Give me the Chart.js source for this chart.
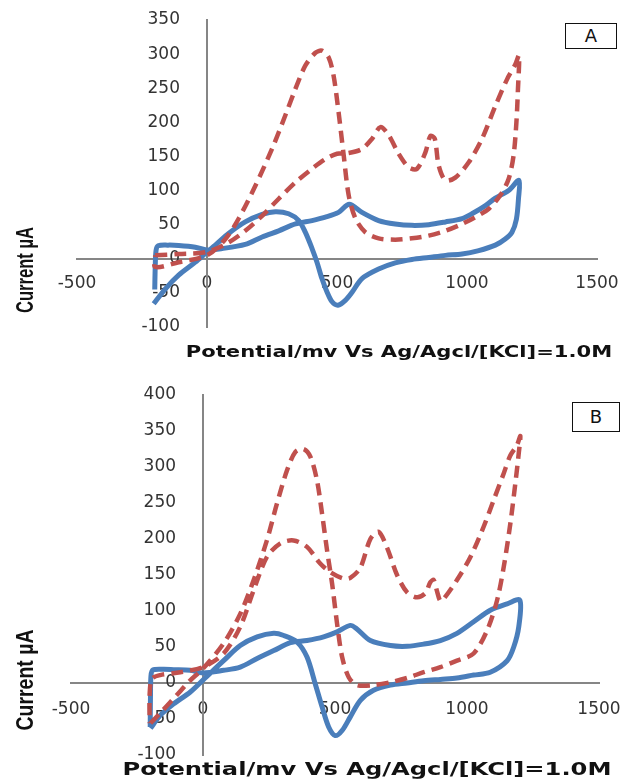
<!DOCTYPE html>
<html>
<head>
<meta charset="utf-8">
<title>Cyclic voltammograms A and B</title>
<script src="https://cdn.jsdelivr.net/npm/chart.js@4.4.1/dist/chart.umd.min.js"></script>
<style>
  html, body { margin: 0; padding: 0; background: #fff; }
  #page { position: relative; width: 629px; height: 780px; overflow: hidden; background: #fff; }
  canvas { position: absolute; left: 0; }
  #cvA { top: 0; }
  #cvB { top: 380px; }
  .tag {
    position: absolute; box-sizing: border-box; border: 1.5px solid #111;
    font: 18px "DejaVu Sans", sans-serif; color: #111; text-align: center;
    background: #fff;
  }
  .xtitle, .ytitle {
    position: absolute; white-space: nowrap; color: #111; font-weight: bold;
  }
  .xtitle { font-family: "DejaVu Sans", sans-serif; }
  .ytitle { font-family: "Liberation Sans", Arial, sans-serif; font-size: 24px; }
</style>
</head>
<body>
<div id="page">
  <canvas id="cvA" width="629" height="380"></canvas>
  <canvas id="cvB" width="629" height="400"></canvas>

  <div class="tag" style="left:565px;top:23px;width:52px;height:26px;line-height:23px;">A</div>
  <div class="tag" style="left:572px;top:402px;width:48px;height:30px;line-height:27px;">B</div>

  <div class="xtitle" style="left:399px;top:352px;font-size:15.5px;transform:translate(-50%,-50%) scaleX(1.36);">Potential/mv Vs Ag/Agcl/[KCl]=1.0M</div>
  <div class="xtitle" style="left:367px;top:768px;font-size:17.8px;transform:translate(-50%,-50%) scaleX(1.36);">Potential/mv Vs Ag/Agcl/[KCl]=1.0M</div>

  <div class="ytitle" style="left:25px;top:270px;transform:translate(-50%,-50%) rotate(-90deg) scaleX(0.69);">Current µA</div>
  <div class="ytitle" style="left:25px;top:680px;transform:translate(-50%,-50%) rotate(-90deg) scaleX(0.81);">Current µA</div>
</div>

<script>
// ---- axis ticks ----
const potentialTicks = [-500, 0, 500, 1000, 1500];
const currentTicksA = [-100, -50, 0, 50, 100, 150, 200, 250, 300, 350];
const currentTicksB = [-100, -50, 0, 50, 100, 150, 200, 250, 300, 350, 400];

// ---- panel A: blue solid loop (potential mV, current µA) ----
const aBluePotential = [-201, -199, -196, -188, -150, -109, -45, 0, 58, 147, 212, 276, 340, 404, 455, 506, 547, 596, 660, 724, 788, 853, 917, 981, 1019, 1071, 1109, 1160, 1200,
  1198, 1190, 1173, 1147, 1109, 1045, 981, 917, 853, 788, 724, 660, 596, 558, 532, 504, 481, 462, 442, 423, 404, 378, 353, 314, 263, 212, 147, 83, 32, 0, -45, -109, -160, -205];
const aBlueCurrent = [-45, -10, 12, 19, 20, 19.5, 17, 13, 15, 21, 32, 41, 51, 56, 61, 68, 80, 68, 56, 51, 49, 50, 54, 59, 66, 78, 89, 100, 115,
  88, 58, 39, 29, 20, 12, 7, 5, 2, -1, -6, -15, -29, -49, -61, -68, -63, -49, -29, -5, 15, 39, 56, 66, 69, 65, 54, 37, 20, 10, -5, -24, -44, -66];

// ---- panel A: red dashed loop ----
const aRedPotential = [-199, -109, 0, 83, 147, 212, 276, 340, 404, 455, 500, 545, 596, 635, 667, 699, 737, 776, 808, 840, 859, 876, 891, 917, 955, 1006, 1058, 1109, 1154, 1186, 1200,
  1196, 1190, 1179, 1160, 1128, 1083, 1032, 981, 917, 853, 788, 724, 660, 609, 571, 545, 526, 506, 487, 468, 442, 417, 378, 340, 301, 250, 186, 122, 71, 0, -109, -199, -199];
const aRedCurrent = [5, 7, 10, 24, 41, 63, 88, 112, 132, 146, 154, 155, 161, 176, 193, 181, 154, 134, 132, 156, 180, 176, 137, 115, 119, 141, 176, 224, 263, 285, 298,
  249, 200, 151, 117, 93, 73, 61, 51, 41, 34, 30, 28, 30, 39, 59, 93, 151, 215, 268, 295, 305, 302, 283, 249, 210, 161, 107, 59, 29, 5, -5, -12, 5];

// ---- panel B: blue solid loop ----
const bBluePotential = [-200, -199, -197, -190, -150, -111, -48, 0, 78, 141, 205, 268, 331, 394, 457, 508, 558, 583, 634, 710, 773, 836, 899, 962, 1025, 1088, 1152, 1200,
  1196, 1177, 1152, 1088, 1025, 962, 899, 836, 773, 710, 646, 596, 558, 527, 501, 476, 451, 425, 394, 356, 306, 268, 205, 141, 78, 0, -48, -111, -162, -199];
const bBlueCurrent = [-61, -20, 10, 18, 19, 18.5, 17.6, 14, 17.6, 22, 34, 45, 56, 59, 64, 71, 80, 75, 59, 52, 51, 54, 59, 69, 85, 101, 110, 115,
  78, 50, 31, 15, 11, 7, 5, 3, 0, -3, -10, -24, -47, -66, -73, -61, -33, -1, 36, 57, 66, 69, 64, 52, 31, 4, -12.5, -29, -45, -63];

// ---- panel B: red dashed loop ----
const bRedPotential = [-199, -150, -100, -50, 0, 78, 141, 192, 242, 280, 318, 350, 381, 407, 432, 451, 470, 489, 508, 527, 552, 583, 646, 710, 773, 836, 899, 962, 1025, 1076, 1114, 1139, 1164, 1183, 1196, 1202,
  1189, 1164, 1139, 1101, 1063, 1013, 962, 912, 899, 886, 874, 861, 843, 811, 773, 735, 697, 665, 634, 596, 558, 533, 482, 444, 394, 343, 293, 242, 192, 141, 78, 0, -86, -162, -193, -202, -202];
const bRedCurrent = [-56, -37, -17, 3, 20, 55, 96, 143, 198, 249, 295, 321, 325, 314, 281, 235, 184, 138, 82, 36, 8, -3, -3, 1, 7, 15, 22, 31, 41, 73, 115, 161, 221, 277, 319, 343,
  330, 316, 291, 254, 217, 175, 143, 117, 114, 128, 143, 140, 125, 119, 126, 150, 188, 210, 200, 160, 146, 145, 154, 166, 189, 198, 194, 175, 129, 78, 41, 22, 15, 11, 6, -15, -56];

const pairs = (xs, ys) => xs.map((x, i) => ({ x: x, y: ys[i] }));
const blue = '#4A7EBB';
const red = '#C0504D';
const axisGray = '#868686';
const tickFont = { family: 'DejaVu Sans', size: 17 };

// positioned axes should not push the plot area around
function noAxisPadding(scale) {
  scale.paddingLeft = 0; scale.paddingRight = 0;
  scale.paddingTop = 0; scale.paddingBottom = 0;
}

function makeChart(id, bluePts, redPts, yTicks, pad, yLabelAt, xLabelGap) {
  const yMin = yTicks[0], yMax = yTicks[yTicks.length - 1];
  return new Chart(document.getElementById(id), {
    type: 'scatter',
    data: {
      datasets: [
        { data: redPts, showLine: true, borderColor: red, borderWidth: 4.5, borderDash: [12, 7],
          pointRadius: 0, tension: 0.3, order: 0, yAxisID: 'y' },
        { data: bluePts, showLine: true, borderColor: blue, borderWidth: 5,
          pointRadius: 0, tension: 0.3, order: 1, yAxisID: 'y' }
      ]
    },
    options: {
      responsive: false, animation: false, devicePixelRatio: 1,
      layout: { padding: pad, autoPadding: false },
      plugins: { legend: { display: false }, tooltip: { enabled: false } },
      scales: {
        x: {
          type: 'linear', min: potentialTicks[0], max: potentialTicks[potentialTicks.length - 1],
          position: { y: 0 },
          afterBuildTicks: s => { s.ticks = potentialTicks.map(v => ({ value: v })); },
          afterFit: noAxisPadding,
          grid: { display: false, drawTicks: false },
          border: { display: true, color: axisGray, width: 2 },
          ticks: { font: tickFont, color: '#333', padding: xLabelGap, maxRotation: 0, autoSkip: false,
                   callback: v => String(v) }
        },
        // labels of the current axis sit a little left of the vertical axis line
        y: {
          type: 'linear', min: yMin, max: yMax,
          position: { x: yLabelAt },
          afterBuildTicks: s => { s.ticks = yTicks.map(v => ({ value: v })); },
          afterFit: noAxisPadding,
          grid: { display: false, drawTicks: false },
          border: { display: false },
          ticks: { font: tickFont, color: '#333', padding: 0, autoSkip: false, callback: v => String(v) }
        },
        // vertical axis line through zero potential
        yLine: {
          type: 'linear', min: yMin, max: yMax,
          position: { x: 0 },
          afterFit: noAxisPadding,
          grid: { display: false, drawTicks: false },
          border: { display: true, color: axisGray, width: 2 },
          ticks: { display: false }
        }
      }
    }
  });
}

makeChart('cvA', pairs(aBluePotential, aBlueCurrent), pairs(aRedPotential, aRedCurrent), currentTicksA,
  { left: 77, right: 32, top: 20, bottom: 53 }, -104, 15);
makeChart('cvB', pairs(bBluePotential, bBlueCurrent), pairs(bRedPotential, bRedCurrent), currentTicksB,
  { left: 71, right: 30, top: 15, bottom: 25 }, -102, 16);
</script>
</body>
</html>
